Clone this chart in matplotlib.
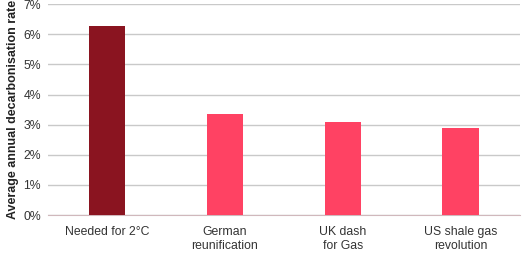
import matplotlib
matplotlib.use("Agg")
import matplotlib.pyplot as plt
from matplotlib.ticker import PercentFormatter

plt.rcParams['font.family'] = ['Liberation Sans', 'DejaVu Sans']

categories = ["Needed for 2°C", "German\nreunification", "UK dash\nfor Gas", "US shale gas\nrevolution"]
rates = [6.28, 3.35, 3.08, 2.89]
bar_colors = ["#8a1420", "#ff4263", "#ff4263", "#ff4263"]

fig = plt.figure(figsize=(5.32, 2.74), dpi=100)
ax = fig.add_axes([0.090, 0.215, 0.887, 0.770])

x = range(len(categories))
ax.bar(x, rates, width=0.31, color=bar_colors, zorder=3)

ax.set_xlim(-0.5, len(categories) - 0.5)
ax.set_ylim(0, 7)
ax.set_yticks(range(0, 8))
ax.yaxis.set_major_formatter(PercentFormatter(decimals=0))
ax.grid(axis='y', color='#c9c9c9', linewidth=1, zorder=0)
ax.set_axisbelow(True)

for s in ['top', 'right', 'left']:
    ax.spines[s].set_visible(False)
ax.spines['bottom'].set_color('#d0b8bc')
ax.tick_params(axis='both', length=0, labelsize=8.8, colors='#333333')
ax.tick_params(axis='y', pad=5)
ax.tick_params(axis='x', pad=8)
ax.set_xticks(list(x))
ax.set_xticklabels(categories, linespacing=1.2)

ax.set_ylabel("Average annual decarbonisation rate", fontsize=9, fontweight='bold',
              color='#222222')
ax.yaxis.set_label_coords(-0.062, 0.5)

fig.savefig("out.png", dpi=100)
